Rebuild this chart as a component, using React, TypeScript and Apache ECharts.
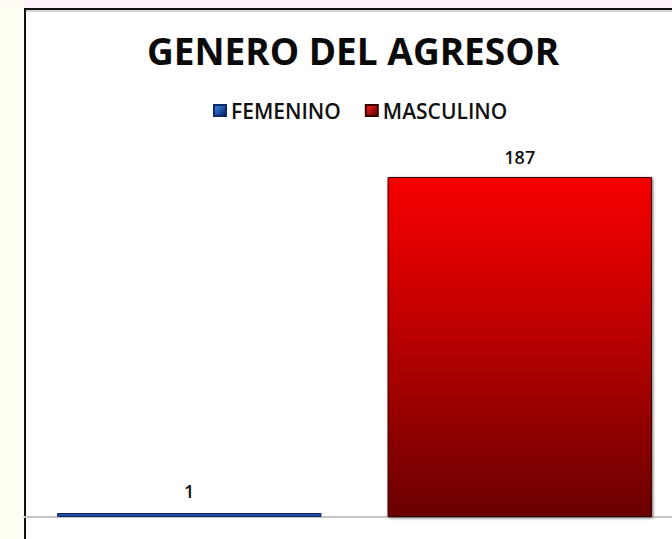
import React, { useEffect, useRef } from "react";
import * as echarts from "echarts";

const categories: string[] = ["FEMENINO", "MASCULINO"];
const seriesNames: string[] = ["FEMENINO", "MASCULINO"];
const femeninoValues: (number | string)[] = [1, "-"];
const masculinoValues: (number | string)[] = ["-", 187];
const titleText = "GENERO DEL AGRESOR";

export default function App() {
  const ref = useRef<HTMLDivElement>(null);
  useEffect(() => {
    if (!ref.current) return;
    const chart = echarts.init(ref.current, null, { renderer: "svg" });
    const font = "'Open Sans', sans-serif";
    chart.setOption({
      animation: false,
      backgroundColor: "#ffffff",
      graphic: [
        { type: "rect", shape: { x: 0, y: 0, width: 690, height: 8 }, style: { fill: "#fdf4fb" }, z: -10 },
        { type: "rect", shape: { x: 0, y: 8, width: 24, height: 531 }, style: { fill: "#fffff3" }, z: -10 },
        { type: "rect", shape: { x: 0, y: 0, width: 24, height: 8 }, style: { fill: "#fffbf3" }, z: -10 },
        { type: "line", shape: { x1: 24, y1: 9, x2: 690, y2: 9 }, style: { stroke: "#111", lineWidth: 2 } },
        { type: "line", shape: { x1: 25, y1: 8, x2: 25, y2: 539 }, style: { stroke: "#111", lineWidth: 2 } },
        { type: "line", shape: { x1: 26, y1: 11, x2: 690, y2: 11 }, style: { stroke: "#aaa", lineWidth: 1 } },
      ],
      title: {
        text: titleText,
        left: 348,
        top: 27,
        textAlign: "center",
        textStyle: { fontFamily: font, fontWeight: "bold", fontSize: 37, color: "#0a0a0a" },
      },
      legend: {
        data: seriesNames.map((n, i) => ({
          name: n,
          itemStyle: {
            color: new echarts.graphic.LinearGradient(0, 0, 1, 1, i === 0
              ? [{ offset: 0, color: "#3a8ef0" }, { offset: 1, color: "#0a1a60" }]
              : [{ offset: 0, color: "#ff2020" }, { offset: 1, color: "#5a0000" }]),
          },
        })),
        left: 213,
        top: 100,
        padding: 0,
        icon: "rect",
        itemWidth: 12,
        itemHeight: 11,
        itemGap: 24,
        textStyle: { fontFamily: font, fontWeight: 600, fontSize: 21, color: "#111" },
        selectedMode: false,
      },
      grid: { left: 24, right: 0, top: 177, bottom: 22, containLabel: false },
      xAxis: {
        type: "category",
        data: categories,
        axisLine: { lineStyle: { color: "#c4c4c4", width: 2 } },
        axisTick: { show: false },
        axisLabel: { show: false },
      },
      yAxis: {
        type: "value",
        min: 0,
        max: 187,
        show: false,
        splitLine: { show: false },
      },
      series: [
        {
          name: seriesNames[0],
          type: "bar",
          stack: "g",
          data: femeninoValues,
          barWidth: "80%",
          barMinHeight: 4,
          itemStyle: { color: "#1f4ea0", borderColor: "#0d2a66", borderWidth: 1 },
          label: {
            show: true,
            position: "top",
            distance: 13,
            fontFamily: font,
            fontWeight: 600,
            fontSize: 18,
            color: "#111",
          },
        },
        {
          name: seriesNames[1],
          type: "bar",
          stack: "g",
          data: masculinoValues,
          barWidth: "80%",
          itemStyle: {
            color: new echarts.graphic.LinearGradient(0, 0, 0, 1, [
              { offset: 0, color: "#f50000" },
              { offset: 0.2, color: "#e00000" },
              { offset: 1, color: "#6a0000" },
            ]),
            borderColor: "#3a0000",
            borderWidth: 1,
            shadowColor: "rgba(0,0,0,0.6)",
            shadowBlur: 3,
            shadowOffsetX: 1,
            shadowOffsetY: 1,
          },
          label: {
            show: true,
            position: "top",
            distance: 11,
            fontFamily: font,
            fontWeight: 600,
            fontSize: 18,
            color: "#111",
          },
        },
      ],
    });
    return () => chart.dispose();
  }, []);
  return (
    <div style={{ position: "fixed", left: 0, top: 0, width: 672, height: 539, overflow: "hidden" }}>
      <div ref={ref} style={{ width: 685, height: 539 }} />
    </div>
  );
}
